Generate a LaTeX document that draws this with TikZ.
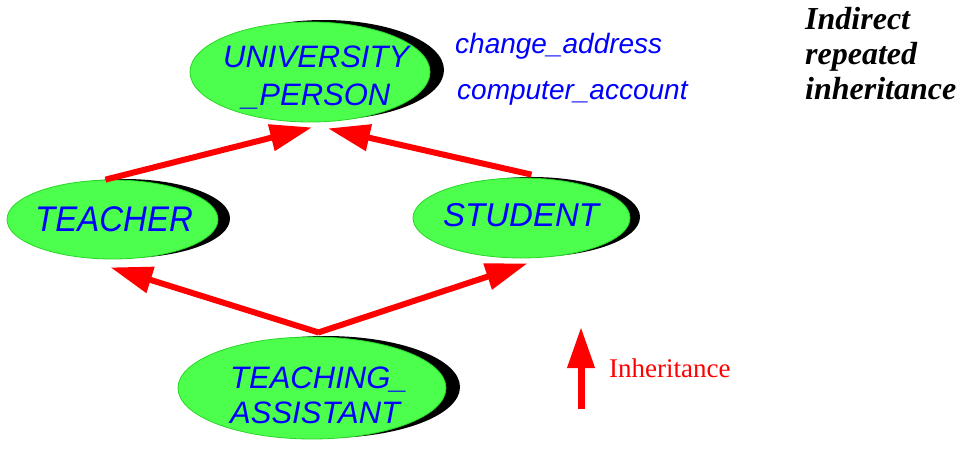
\documentclass[tikz,border=0pt]{standalone}
\usepackage{fontspec}
\setmainfont{Liberation Sans}
\newfontfamily\tnr{Liberation Serif}
\usetikzlibrary{shapes.geometric,arrows.meta}
\definecolor{ngreen}{RGB}{77,255,77}
\definecolor{ngreenline}{RGB}{40,215,40}
\definecolor{nblue}{RGB}{0,0,255}
\definecolor{nred}{RGB}{255,0,0}
\begin{document}
\begin{tikzpicture}[x=1pt,y=-1pt,
  shadowell/.style={ellipse, fill=black, inner sep=0pt},
  greenell/.style={ellipse, fill=ngreen, draw=ngreenline, line width=0.8pt, inner sep=0pt},
  ntext/.style={anchor=base west, inner sep=0pt, text=nblue, font=\fontsize{#1}{#1}\selectfont\itshape},
  lbl/.style={anchor=base west, inner sep=0pt, text=nblue, font=\fontsize{28}{28}\selectfont\itshape},
  ttl/.style={anchor=base west, inner sep=0pt, text=black, font=\fontsize{32}{32}\selectfont\tnr\bfseries\itshape},
  inh/.style={draw=nred, line width=6pt, -{Triangle[length=42pt,width=26pt]}}
]
\useasboundingbox (0,0) rectangle (973,452);

% shadows
\node[shadowell, minimum width=240pt, minimum height=100pt] (ups) at (324,70) {};
\node[shadowell, minimum width=211pt, minimum height=79pt] (tes) at (124.5,218.5) {};
\node[shadowell, minimum width=217pt, minimum height=80pt] (sts) at (531.5,217) {};
\node[shadowell, minimum width=268pt, minimum height=102pt] (tas) at (326,387) {};

% ellipses
\node[greenell, minimum width=240pt, minimum height=100pt] (up) at (310,72) {};
\node[greenell, minimum width=211pt, minimum height=79pt] (te) at (112.5,219.5) {};
\node[greenell, minimum width=217pt, minimum height=80pt] (st) at (521.5,218) {};
\node[greenell, minimum width=268pt, minimum height=102pt] (ta) at (312,388) {};

% node texts
\node[ntext=31] (up1) at (223,67) {UNIVERSITY};
\node[ntext=31] (up2) at (242,105) {\_PERSON};
\node[ntext=33, yscale=1.08] (te1) at (35,231) {TEACHER};
\node[ntext=33] (st1) at (443,226) {STUDENT};
\node[ntext=31] (ta1) at (230,388) {TEACHING\_};
\node[ntext=31] (ta2) at (230,423) {ASSISTANT};

% features
\node[lbl] (f1) at (455,53) {change\_address};
\node[lbl] (f2) at (457,99) {computer\_account};

% title
\node[ttl] (t1) at (805,30) {Indirect};
\node[ttl] (t2) at (805,64) {repeated};
\node[ttl] (t3) at (805,99) {inheritance};

% inheritance arrows
\draw[inh] ([xshift=-7pt]te.north) -- ([xshift=2pt,yshift=-5pt]up.south);
\draw[inh] ([xshift=10pt,yshift=3pt]st.north) -- ([xshift=18pt,yshift=-6pt]up.south);
\draw[inh] ([xshift=7pt,yshift=4pt]ta.north) -- ([xshift=-2pt,yshift=-8pt]te.south);
\draw[inh] ([xshift=6pt,yshift=4pt]ta.north) -- ([xshift=6pt,yshift=-5pt]st.south);

% legend
\coordinate (lb) at (581,409);
\coordinate (lt) at (581,327);
\draw[inh, line width=7pt, -{Triangle[length=41pt,width=26pt]}] (lb) -- (lt);
\node[anchor=base west, inner sep=0pt, text=nred, font=\fontsize{27}{27}\selectfont\tnr] (lg) at (609,377) {Inheritance};
\end{tikzpicture}
\end{document}
